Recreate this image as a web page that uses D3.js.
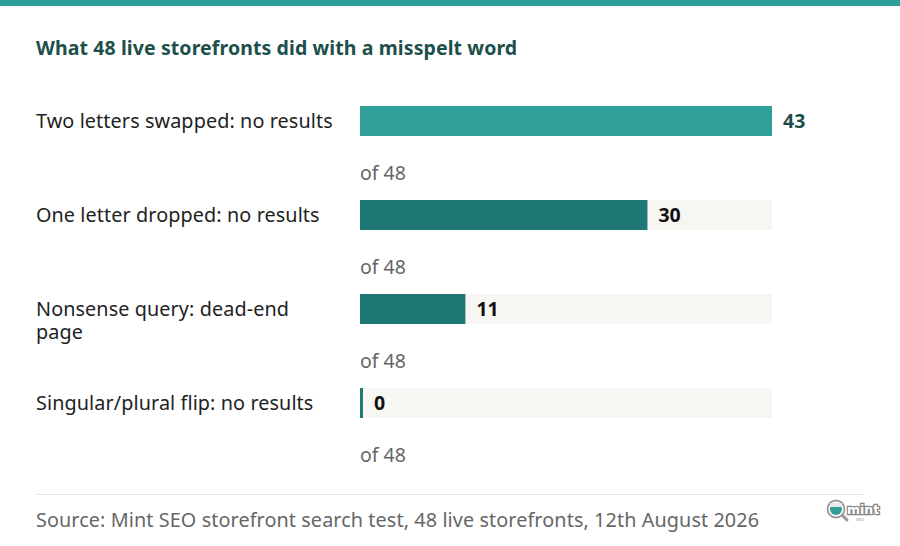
<!DOCTYPE html>
<html>
<head>
<meta charset="utf-8">
<script src="https://cdn.jsdelivr.net/npm/d3@7"></script>
<style>
  html, body { margin: 0; padding: 0; background: #ffffff; }
  svg { display: block; }
</style>
</head>
<body>
<svg id="chart" width="900" height="546"></svg>
<script>
const title = "What 48 live storefronts did with a misspelt word";
const categories = [
  "Two letters swapped: no results",
  "One letter dropped: no results",
  "Nonsense query: dead-end\npage",
  "Singular/plural flip: no results"
];
const values = [43, 30, 11, 0];
const totals = [48, 48, 48, 48];
const highlight = [true, false, false, false];
const source = "Source: Mint SEO storefront search test, 48 live storefronts, 12th August 2026";

const W = 900, H = 546;
const FONT = "'Century Gothic', 'URW Gothic', 'Noto Sans', 'DejaVu Sans', sans-serif";
const svg = d3.select("#chart").style("font-family", FONT);

svg.append("rect").attr("x", 0).attr("y", 0).attr("width", W).attr("height", H).attr("fill", "#ffffff");
svg.append("rect").attr("x", 0).attr("y", 0).attr("width", W).attr("height", 6).attr("fill", "#2f9f97");

svg.append("text").attr("x", 36).attr("y", 55)
  .attr("font-size", 19.5).attr("font-weight", 700).attr("fill", "#1d4f4b")
  .attr("letter-spacing", 0.1)
  .text(title);

const x = d3.scaleLinear().domain([0, d3.max(values)]).range([360, 772]);
const y = d3.scaleBand().domain(d3.range(categories.length)).range([106, 482]).paddingInner(0).paddingOuter(0);
const barH = 30;
const minW = 3;

const g = svg.append("g");
const rows = g.selectAll("g.row").data(categories).join("g").attr("class", "row");

// track
rows.append("rect")
  .attr("x", x(0)).attr("y", (d, i) => y(i))
  .attr("width", x.range()[1] - x(0)).attr("height", barH)
  .attr("fill", "#f8f6f2");
// bar
rows.append("rect")
  .attr("x", x(0)).attr("y", (d, i) => y(i))
  .attr("width", (d, i) => Math.max(minW, x(values[i]) - x(0))).attr("height", barH)
  .attr("fill", (d, i) => highlight[i] ? "#31a098" : "#1f7873");
// value label
rows.append("text")
  .attr("x", (d, i) => x(0) + Math.max(minW, x(values[i]) - x(0)) + 11)
  .attr("y", (d, i) => y(i) + barH / 2 + 7)
  .attr("font-size", 19.5).attr("font-weight", 700)
  .attr("fill", (d, i) => highlight[i] ? "#1d4f4b" : "#111111")
  .text((d, i) => values[i]);
// of total
rows.append("text")
  .attr("x", x(0))
  .attr("y", (d, i) => y(i) + 74)
  .attr("font-size", 19.5).attr("fill", "#666666")
  .text((d, i) => "of " + totals[i]);
// category labels
rows.append("text")
  .attr("x", 36)
  .attr("y", (d, i) => y(i) + barH / 2 + 7)
  .attr("font-size", 19.8).attr("fill", "#222222")
  .attr("letter-spacing", 0.1)
  .each(function(d) {
    const t = d3.select(this);
    d.split("\n").forEach((line, k) => {
      t.append("tspan").attr("x", 36).attr("dy", k === 0 ? 0 : 22.5).text(line);
    });
  });

// footer
svg.append("line").attr("x1", 36).attr("x2", 864).attr("y1", 494.5).attr("y2", 494.5)
  .attr("stroke", "#e6e2d8").attr("stroke-width", 1);
svg.append("text").attr("x", 36).attr("y", 527)
  .attr("font-size", 19.8).attr("fill", "#666666")
  .attr("letter-spacing", 0.1)
  .text(source);

// logo
const logo = svg.append("g").attr("transform", "translate(836,509)");
logo.append("line").attr("x1", 5).attr("y1", 5).attr("x2", 11).attr("y2", 11)
  .attr("stroke", "#9a9a9a").attr("stroke-width", 3).attr("stroke-linecap", "round");
logo.append("circle").attr("r", 8.5).attr("fill", "#ffffff").attr("stroke", "#9a9a9a").attr("stroke-width", 1.8);
logo.append("circle").attr("r", 6).attr("fill", "#2f9f97");
logo.append("rect").attr("x", -6).attr("y", -6).attr("width", 12).attr("height", 4).attr("fill", "#e8e8e8");
logo.append("text").attr("x", 11).attr("y", 5).attr("font-size", 12.5).attr("font-weight", 700)
  .attr("fill", "#ffffff").attr("stroke", "#888888").attr("stroke-width", 2.5).attr("paint-order", "stroke")
  .style("font-family", "'DejaVu Sans', sans-serif").text("mint");
logo.append("text").attr("x", 20).attr("y", 12).attr("font-size", 4).attr("fill", "#999999")
  .style("font-family", "'DejaVu Sans', sans-serif").text("SEO");
</script>
</body>
</html>
